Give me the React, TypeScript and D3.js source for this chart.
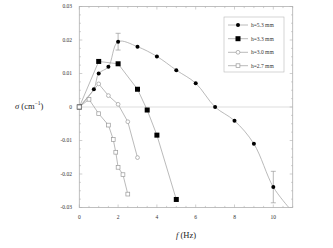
import React from "react";
import * as d3 from "d3";

const f53 = [0, 0.75, 1.0, 1.5, 2.0, 3.0, 4.0, 5.0, 6.0, 7.0, 8.0, 9.0, 10.0];
const s53 = [0, 0.0053, 0.0100, 0.0120, 0.0195, 0.0180, 0.0151, 0.0110, 0.0071, 0.0000, -0.0041, -0.0110, -0.0239];
const fit53End = [10.8, -0.030];
const err53 = [{ f: 2.0, s: 0.0195, e: 0.0025 }, { f: 10.0, s: -0.0239, e: 0.0047 }];

const f33 = [0, 1.0, 2.0, 3.0, 3.5, 4.0, 5.0];
const s33 = [0, 0.0136, 0.0129, 0.0053, -0.0009, -0.0084, -0.0276];

const f30 = [0, 1.0, 1.5, 2.0, 2.5, 3.0];
const s30 = [0, 0.0069, 0.0034, 0.0008, -0.0044, -0.0151];

const f27 = [0, 0.5, 1.0, 1.5, 1.75, 1.88, 2.0, 2.25, 2.5];
const s27 = [0, 0.0023, -0.0020, -0.0054, -0.0097, -0.0135, -0.0180, -0.0202, -0.0260];

const xTicks = [0, 2, 4, 6, 8, 10];
const yTicks = [-0.03, -0.02, -0.01, 0, 0.01, 0.02, 0.03];
const yTickLabels = ["-0.03", "-0.02", "-0.01", "0", "0.01", "0.02", "0.03"];
const legendLabels = ["h=5.3 mm", "h=3.3 mm", "h=3.0 mm", "h=2.7 mm"];

const L = 79.3, R = 292.7, T = 6.5, B = 207.5;
const LINE = "#a8a8a8";
const FONT = "'Liberation Serif', 'DejaVu Serif', serif";

export default function App() {
  const x = d3.scaleLinear().domain([0, 11]).range([L, R]);
  const y = d3.scaleLinear().domain([-0.03, 0.03]).range([B, T]);
  const lin = d3.line<[number, number]>().x(d => x(d[0])).y(d => y(d[1]));
  const smooth = d3.line<[number, number]>().x(d => x(d[0])).y(d => y(d[1])).curve(d3.curveCatmullRom.alpha(0.5));
  const zip = (a: number[], b: number[]) => a.map((v, i) => [v, b[i]] as [number, number]);

  const p53 = zip(f53, s53);
  const p33 = zip(f33, s33);
  const p30 = zip(f30, s30);
  const p27 = zip(f27, s27);

  const xMinor = d3.range(0, 11.01, 0.5);
  const yMinor = d3.range(-0.03, 0.03001, 0.0025);

  const marker = (kind: number, cx: number, cy: number, key: string) => {
    if (kind === 0) return <circle key={key} cx={cx} cy={cy} r={2.0} fill="#000" />;
    if (kind === 1) return <rect key={key} x={cx - 2.5} y={cy - 2.5} width={5} height={5} fill="#000" />;
    if (kind === 2) return <circle key={key} cx={cx} cy={cy} r={1.9} fill="#fff" stroke="#999" strokeWidth={0.7} />;
    return <rect key={key} x={cx - 1.9} y={cy - 1.9} width={3.8} height={3.8} fill="#fff" stroke="#999" strokeWidth={0.7} />;
  };

  const legY = [25, 38.7, 52.3, 65.7];

  return (
    <svg width={333} height={248} style={{ position: "absolute", left: 0, top: 0, background: "#fff" }}>
      <line x1={L} x2={R} y1={y(0)} y2={y(0)} stroke="#c8c8c8" strokeWidth={0.6} />
      <rect x={L} y={T} width={R - L} height={B - T} fill="none" stroke="#b0b0b0" strokeWidth={0.8} />
      {xMinor.map((v, i) => {
        const major = Math.abs(v / 2 - Math.round(v / 2)) < 1e-6;
        const len = major ? 3 : 1.6;
        return (
          <g key={"xm" + i}>
            <line x1={x(v)} x2={x(v)} y1={B} y2={B - len} stroke="#b0b0b0" strokeWidth={0.6} />
            <line x1={x(v)} x2={x(v)} y1={T} y2={T + len} stroke="#b0b0b0" strokeWidth={0.6} />
          </g>
        );
      })}
      {yMinor.map((v, i) => {
        const major = Math.abs(v / 0.01 - Math.round(v / 0.01)) < 1e-6;
        const len = major ? 3 : 1.6;
        return (
          <g key={"ym" + i}>
            <line x1={L} x2={L + len} y1={y(v)} y2={y(v)} stroke="#b0b0b0" strokeWidth={0.6} />
            <line x1={R} x2={R - len} y1={y(v)} y2={y(v)} stroke="#b0b0b0" strokeWidth={0.6} />
          </g>
        );
      })}
      {xTicks.map(v => (
        <text key={"xt" + v} x={x(v)} y={219} fontSize={5.5} fontFamily={FONT} textAnchor="middle" fill="#333">{v}</text>
      ))}
      {yTicks.map((v, i) => (
        <text key={"yt" + i} x={72} y={y(v) + 1.8} fontSize={5.5} fontFamily={FONT} textAnchor="end" fill="#333">{yTickLabels[i]}</text>
      ))}
      <path d={smooth([...p53, fit53End as [number, number]]) || ""} fill="none" stroke={LINE} strokeWidth={0.8} />
      <path d={lin(p33) || ""} fill="none" stroke={LINE} strokeWidth={0.8} />
      <path d={lin(p30) || ""} fill="none" stroke={LINE} strokeWidth={0.8} />
      <path d={lin(p27) || ""} fill="none" stroke={LINE} strokeWidth={0.8} />
      {err53.map((e, i) => (
        <g key={"eb" + i} stroke="#999" strokeWidth={0.7}>
          <line x1={x(e.f)} x2={x(e.f)} y1={y(e.s + e.e)} y2={y(e.s - e.e)} />
          <line x1={x(e.f) - 2.5} x2={x(e.f) + 2.5} y1={y(e.s + e.e)} y2={y(e.s + e.e)} />
          <line x1={x(e.f) - 2.5} x2={x(e.f) + 2.5} y1={y(e.s - e.e)} y2={y(e.s - e.e)} />
        </g>
      ))}
      {p53.map((d, i) => marker(0, x(d[0]), y(d[1]), "m53" + i))}
      {p33.map((d, i) => marker(1, x(d[0]), y(d[1]), "m33" + i))}
      {p30.map((d, i) => marker(2, x(d[0]), y(d[1]), "m30" + i))}
      {p27.map((d, i) => marker(3, x(d[0]), y(d[1]), "m27" + i))}
      <rect x={224} y={17} width={60} height={55} fill="#fff" stroke="#b8b8b8" strokeWidth={0.6} />
      {legendLabels.map((lab, i) => (
        <g key={"lg" + i}>
          <line x1={228} x2={248} y1={legY[i]} y2={legY[i]} stroke={LINE} strokeWidth={0.8} />
          {marker(i, 238, legY[i], "lm" + i)}
          <text x={251} y={legY[i] + 1.9} fontSize={5.5} fontFamily={FONT} fill="#333">{lab}</text>
        </g>
      ))}
      <text x={15} y={108.5} fontSize={8.5} fontFamily={FONT} fill="#222">
        <tspan fontStyle="italic">σ</tspan> (cm<tspan dy={-3.5} fontSize={5.5}>−1</tspan><tspan dy={3.5}>)</tspan>
      </text>
      <text x={176} y={238} fontSize={8.5} fontFamily={FONT} fill="#222">
        <tspan fontStyle="italic">f</tspan> (Hz)
      </text>
    </svg>
  );
}
